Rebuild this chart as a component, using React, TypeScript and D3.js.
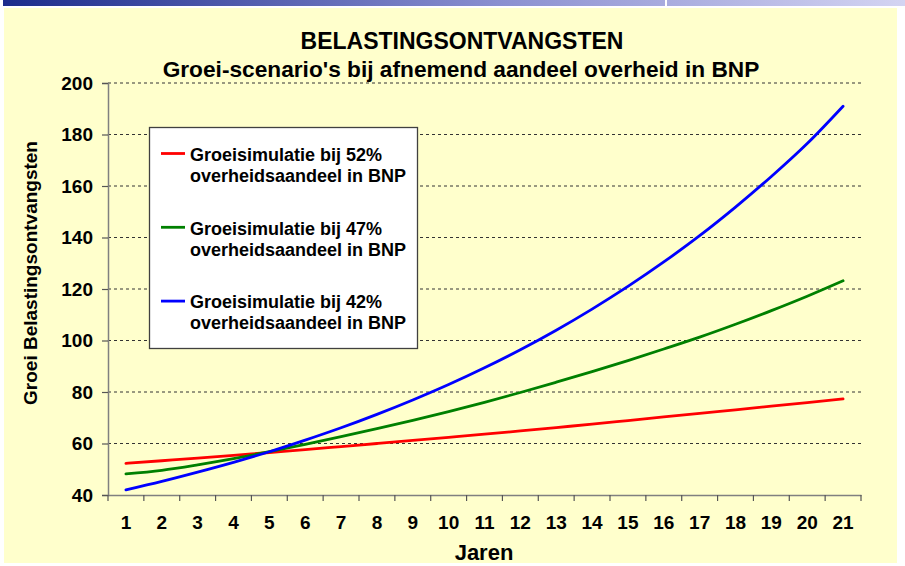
import React, { useRef, useEffect } from 'react';
import * as d3 from 'd3';

const jaren = d3.range(1, 22).map(String);
const yTicks = [40, 60, 80, 100, 120, 140, 160, 180, 200];

const sim52 = [52.3, 53.3, 54.3, 55.4, 56.5, 57.6, 58.8, 60.0, 61.2, 62.4, 63.6, 64.9, 66.2, 67.5, 68.9, 70.3, 71.7, 73.1, 74.5, 75.9, 77.3];
const sim47 = [48.2, 49.6, 51.7, 54.1, 56.8, 59.7, 62.7, 65.8, 69.0, 72.4, 76.0, 79.8, 83.8, 87.9, 92.2, 96.7, 101.3, 106.3, 111.6, 117.2, 123.2];
const sim42 = [42.0, 45.3, 48.9, 52.7, 56.8, 61.3, 66.1, 71.3, 76.9, 82.9, 89.4, 96.4, 104.0, 112.2, 121.0, 130.5, 140.7, 151.8, 163.7, 176.5, 191.0];

const series = [
  { name: ['Groeisimulatie bij 52%', 'overheidsaandeel in BNP'], values: sim52, color: '#ff0000' },
  { name: ['Groeisimulatie bij 47%', 'overheidsaandeel in BNP'], values: sim47, color: '#008000' },
  { name: ['Groeisimulatie bij 42%', 'overheidsaandeel in BNP'], values: sim42, color: '#0000ff' },
];

const W = 905;
const H = 566;
const FONT = '"Liberation Sans", Arial, sans-serif';

export default function App() {
  const ref = useRef<SVGSVGElement>(null);

  useEffect(() => {
    document.body.style.margin = '0';
    const svg = d3.select(ref.current);
    svg.selectAll('*').remove();

    const plot = { left: 108, right: 861, top: 83, bottom: 495 };

    // top banner
    const defs = svg.append('defs');
    const grad = defs.append('linearGradient').attr('id', 'banner').attr('x1', '0%').attr('x2', '100%');
    grad.append('stop').attr('offset', '0%').attr('stop-color', '#1c2c8c');
    grad.append('stop').attr('offset', '55%').attr('stop-color', '#8a8fd0');
    grad.append('stop').attr('offset', '100%').attr('stop-color', '#d4d4f2');
    svg.append('rect').attr('width', W).attr('height', H).attr('fill', '#ffffff');
    svg.append('rect').attr('x', 3).attr('y', 0).attr('width', W - 3).attr('height', 6).attr('fill', 'url(#banner)');
    svg.append('rect').attr('x', 665).attr('y', 0).attr('width', 2).attr('height', 6).attr('fill', '#ffffff');

    // chart background
    svg.append('rect').attr('x', 4).attr('y', 8).attr('width', 893).attr('height', 555).attr('fill', '#ffffcc');

    const x = d3.scaleBand().domain(jaren).range([plot.left, plot.right]);
    const y = d3.scaleLinear().domain([40, 200]).range([plot.bottom, plot.top]);

    // grid
    svg.append('g')
      .selectAll('line')
      .data(yTicks.slice(1))
      .enter()
      .append('line')
      .attr('x1', plot.left)
      .attr('x2', plot.right)
      .attr('y1', (d) => y(d))
      .attr('y2', (d) => y(d))
      .attr('stroke', '#333')
      .attr('stroke-width', 1)
      .attr('stroke-dasharray', '3,3');

    // y axis
    const yAxis = svg.append('g')
      .attr('transform', `translate(${plot.left},0)`)
      .call(d3.axisLeft(y).tickValues(yTicks).tickSize(6).tickPadding(9));
    yAxis.select('.domain').attr('stroke', '#808080').attr('stroke-width', 1.5);
    yAxis.selectAll('.tick line').attr('stroke', '#555').attr('stroke-width', 1.2);
    yAxis.selectAll('.tick text')
      .attr('font-family', FONT)
      .attr('font-weight', 'bold')
      .attr('font-size', 19)
      .attr('fill', '#000');

    // x axis
    const xAxis = svg.append('g')
      .attr('transform', `translate(0,${plot.bottom})`)
      .call(d3.axisBottom(x).tickSize(0).tickPadding(21).tickSizeOuter(0));
    xAxis.select('.domain').attr('stroke', '#808080').attr('stroke-width', 1.5);
    xAxis.selectAll('.tick text')
      .attr('font-family', FONT)
      .attr('font-weight', 'bold')
      .attr('font-size', 19)
      .attr('fill', '#000');
    const edges = jaren.map((d) => x(d) as number).concat([plot.right]);
    xAxis.selectAll('line.edge')
      .data(edges)
      .enter()
      .append('line')
      .attr('class', 'edge')
      .attr('x1', (d) => d)
      .attr('x2', (d) => d)
      .attr('y1', 0)
      .attr('y2', 6)
      .attr('stroke', '#555')
      .attr('stroke-width', 1.2);

    // lines
    const line = d3.line<number>()
      .x((_, i) => (x(jaren[i]) as number) + x.bandwidth() / 2)
      .y((d) => y(d))
      .curve(d3.curveMonotoneX);

    svg.append('g')
      .selectAll('path')
      .data(series)
      .enter()
      .append('path')
      .attr('d', (d) => line(d.values))
      .attr('fill', 'none')
      .attr('stroke', (d) => d.color)
      .attr('stroke-width', 2.8)
      .attr('stroke-linecap', 'round');

    // legend
    const lg = svg.append('g');
    lg.append('rect')
      .attr('x', 149.5)
      .attr('y', 127.5)
      .attr('width', 268)
      .attr('height', 221)
      .attr('fill', '#ffffff')
      .attr('stroke', '#404040')
      .attr('stroke-width', 1.3);
    series.forEach((s, i) => {
      const cy = 153.5 + i * 73.8;
      lg.append('line')
        .attr('x1', 161).attr('x2', 185)
        .attr('y1', cy).attr('y2', cy)
        .attr('stroke', s.color).attr('stroke-width', 2.8);
      s.name.forEach((t, j) => {
        lg.append('text')
          .attr('x', 190)
          .attr('y', cy + 7.3 + j * 21)
          .attr('font-family', FONT)
          .attr('font-weight', 'bold')
          .attr('font-size', 18)
          .attr('fill', '#000')
          .text(t);
      });
    });

    // titles
    svg.append('text')
      .attr('x', 462).attr('y', 49)
      .attr('text-anchor', 'middle')
      .attr('font-family', FONT).attr('font-weight', 'bold').attr('font-size', 23)
      .text('BELASTINGSONTVANGSTEN');
    svg.append('text')
      .attr('x', 461).attr('y', 77)
      .attr('text-anchor', 'middle')
      .attr('font-family', FONT).attr('font-weight', 'bold').attr('font-size', 22.7)
      .text("Groei-scenario's bij afnemend aandeel overheid in BNP");
    svg.append('text')
      .attr('transform', `translate(37,273) rotate(-90)`)
      .attr('text-anchor', 'middle')
      .attr('font-family', FONT).attr('font-weight', 'bold').attr('font-size', 19)
      .text('Groei Belastingsontvangsten');
    svg.append('text')
      .attr('x', 484).attr('y', 560)
      .attr('text-anchor', 'middle')
      .attr('font-family', FONT).attr('font-weight', 'bold').attr('font-size', 22)
      .text('Jaren');
  }, []);

  return <svg ref={ref} width={W} height={H} style={{ display: 'block' }}></svg>;
}
